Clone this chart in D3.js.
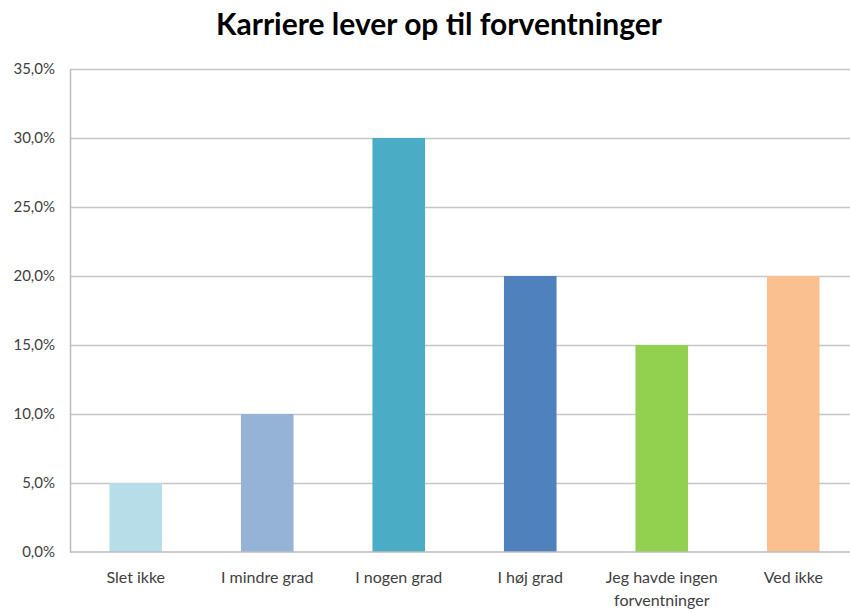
<!DOCTYPE html>
<html>
<head>
<meta charset="utf-8">
<script src="https://cdn.jsdelivr.net/npm/d3@7"></script>
<style>
  body { margin: 0; background: #fff; }
  svg { display: block; }
</style>
</head>
<body>
<div id="chart"></div>
<script>
// chart data
const categories = ["Slet ikke", "I mindre grad", "I nogen grad", "I høj grad", "Jeg havde ingen forventninger", "Ved ikke"];
const values = [5, 10, 30, 20, 15, 20];
const barColors = ["#b7dde8", "#95b3d7", "#4bacc6", "#4f81bd", "#92d050", "#fac090"];
const yTicks = [0, 5, 10, 15, 20, 25, 30, 35];
const titleText = "Karriere lever op til forventninger";

const width = 850, height = 612;
const margin = { top: 69, right: -9, bottom: 60, left: 70 };
const font = "Lato, 'Open Sans', sans-serif";

const svg = d3.select("#chart").append("svg")
    .attr("width", width)
    .attr("height", height);

const x = d3.scaleBand()
    .domain(categories)
    .range([margin.left, width - margin.right])
    .paddingInner(0.6)
    .paddingOuter(0.3);

const y = d3.scaleLinear()
    .domain([0, 35])
    .range([height - margin.bottom, margin.top]);

// title
svg.append("text")
    .attr("x", 439)
    .attr("y", 35)
    .attr("text-anchor", "middle")
    .attr("font-family", font)
    .attr("font-weight", "bold")
    .attr("font-size", 30)
    .attr("fill", "#000")
    .text(titleText);

// gridlines
svg.append("g")
    .selectAll("line")
    .data(yTicks.filter(d => d > 0))
    .join("line")
    .attr("x1", margin.left)
    .attr("x2", width)
    .attr("y1", d => Math.round(y(d)) + 0.5)
    .attr("y2", d => Math.round(y(d)) + 0.5)
    .attr("stroke", "#c6c6c6")
    .attr("stroke-width", 1.5);

// bars
svg.append("g")
    .selectAll("rect")
    .data(values)
    .join("rect")
    .attr("x", (d, i) => x(categories[i]))
    .attr("y", d => y(d))
    .attr("width", x.bandwidth())
    .attr("height", d => y(0) - y(d))
    .attr("fill", (d, i) => barColors[i]);

// y axis
const yAxis = d3.axisLeft(y)
    .tickValues(yTicks)
    .tickSize(0)
    .tickPadding(15)
    .tickFormat(d => d3.format(".1f")(d).replace(".", ",") + "%");

const gy = svg.append("g")
    .attr("transform", `translate(${margin.left},0)`)
    .call(yAxis);
gy.select(".domain").attr("stroke", "#bcbcbc").attr("stroke-width", 1.5);
gy.selectAll("text")
    .attr("font-family", font)
    .attr("font-size", 15)
    .attr("fill", "#404040");

// x axis
const xAxis = d3.axisBottom(x).tickSize(0).tickPadding(20);
const gx = svg.append("g")
    .attr("transform", `translate(0,${y(0)})`)
    .call(xAxis);
gx.select(".domain").attr("stroke", "#bcbcbc").attr("stroke-width", 1.5)
    .attr("d", `M${margin.left},0H${width}`);
gx.selectAll("text")
    .attr("font-family", font)
    .attr("font-size", 16)
    .attr("fill", "#404040")
    .each(function (d) {
        // wrap long label to two lines
        if (d === "Jeg havde ingen forventninger") {
            const t = d3.select(this);
            t.text(null);
            t.append("tspan").attr("x", 0).attr("dy", "0.71em").text("Jeg havde ingen");
            t.append("tspan").attr("x", 0).attr("dy", "1.4em").text("forventninger");
            t.attr("dy", null);
        }
    });
</script>
</body>
</html>
